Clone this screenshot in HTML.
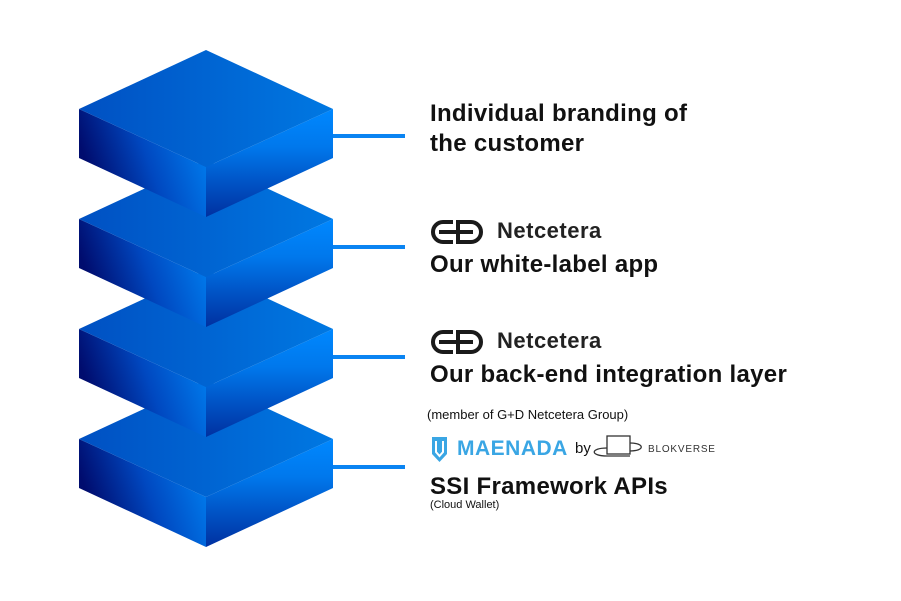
<!DOCTYPE html>
<html><head><meta charset="utf-8"><style>
html,body{margin:0;padding:0;background:#fff;}
body{width:901px;height:601px;position:relative;overflow:hidden;font-family:"Liberation Sans","DejaVu Sans",sans-serif;color:#111;}
.t{position:absolute;white-space:nowrap;}
.b{font-weight:bold;font-size:24px;}
.nc{font-size:22px;font-weight:bold;color:#222;letter-spacing:0.5px;}
</style></head><body>
<svg width="901" height="601" style="position:absolute;left:0;top:0">
<defs>
<linearGradient id="top" x1="0" x2="1" y1="0" y2="0"><stop offset="0" stop-color="#0050c2"/><stop offset="1" stop-color="#0078e2"/></linearGradient>
<linearGradient id="left" x1="0" x2="1" y1="0.3" y2="0"><stop offset="0" stop-color="#000c6e"/><stop offset="0.45" stop-color="#0048c0"/><stop offset="1" stop-color="#0088f8"/></linearGradient>
<linearGradient id="right" x1="0" x2="0" y1="0" y2="1"><stop offset="0" stop-color="#0088ff"/><stop offset="0.35" stop-color="#0078ec"/><stop offset="1" stop-color="#0030a0"/></linearGradient>
<g id="box">
<polygon points="79,109 206,167 206,217 79,158" fill="url(#left)"/>
<polygon points="333,109 206,167 206,217 333,158" fill="url(#right)"/>
<polygon points="79,109 206,50 333,109 206,167" fill="url(#top)"/>
</g>
<g id="gd" fill="none" stroke="#1a1a1a" stroke-width="4">
<path d="M22,2 H12 A10,10 0 0 0 12,22 H22"/>
<path d="M27,2 H40 A10,10 0 0 1 40,22 H27 Z"/>
<path d="M8,12 H42"/>
</g>
</defs>
<use href="#box" y="330"/>
<use href="#box" y="220"/>
<use href="#box" y="110"/>
<use href="#box" y="0"/>
<g fill="#0a84f2">
<rect x="333" y="134" width="72" height="4"/>
<rect x="333" y="245" width="72" height="4"/>
<rect x="333" y="355" width="72" height="4"/>
<rect x="333" y="465" width="72" height="4"/>
</g>
<use href="#gd" x="431" y="220"/>
<use href="#gd" x="431" y="330"/>
<path d="M432,437 H447 V454 L439.5,462 L432,454 Z" fill="#3aa6e4"/>
<path d="M436,441 V452 L439.5,456 L443,452 V441" fill="none" stroke="#fff" stroke-width="2"/>
<g fill="none" stroke="#333" stroke-width="1.3">
<rect x="607" y="436" width="23" height="18"/>
<path d="M607,448 C590,448 590,456 607,456 H630"/>
<path d="M630,443 C645,443 645,451 630,451"/>
</g>
</svg>
<div class="t b" style="left:430px;top:100px;letter-spacing:0.3px;">Individual branding of</div>
<div class="t b" style="left:430px;top:130px;letter-spacing:0.3px;">the customer</div>
<div class="t nc" style="left:497px;top:218px;">Netcetera</div>
<div class="t b" style="left:430px;top:251px;letter-spacing:0.3px;">Our white-label app</div>
<div class="t nc" style="left:497px;top:328px;">Netcetera</div>
<div class="t b" style="left:430px;top:361px;letter-spacing:0.3px;">Our back-end integration layer</div>
<div class="t" style="left:427px;top:407px;font-size:13px;">(member of G+D Netcetera Group)</div>
<div class="t" style="left:457px;top:437px;font-size:21px;font-weight:bold;color:#3aa6e4;letter-spacing:0.5px;">MAENADA</div>
<div class="t" style="left:575px;top:440px;font-size:15px;">by</div>
<div class="t" style="left:648px;top:444px;font-size:10px;letter-spacing:0.8px;color:#333;">BLOKVERSE</div>
<div class="t b" style="left:430px;top:473px;letter-spacing:0.3px;">SSI Framework APIs</div>
<div class="t" style="left:430px;top:499px;font-size:11px;">(Cloud Wallet)</div>
</body></html>
